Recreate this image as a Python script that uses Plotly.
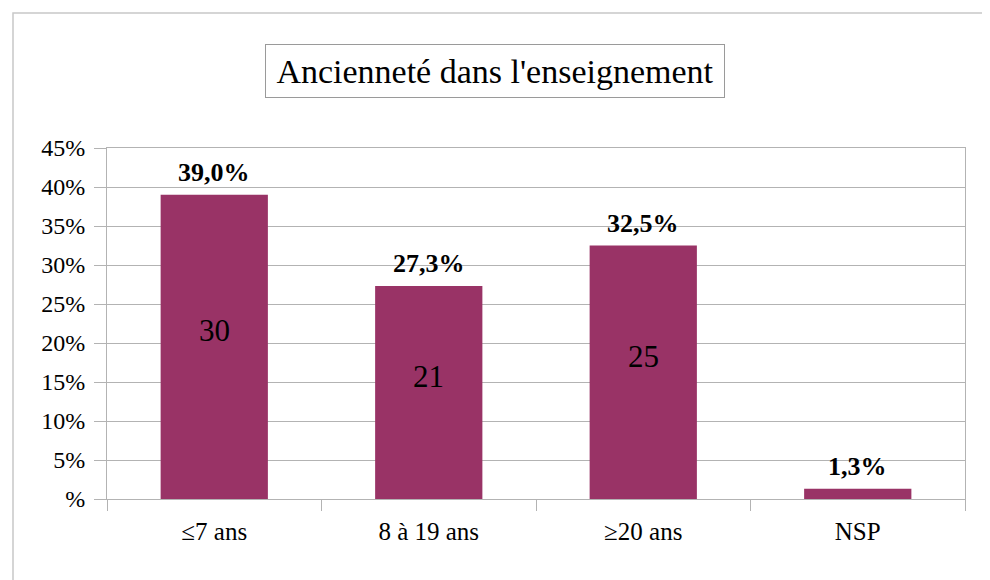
import plotly.graph_objects as go

categories = ["≤7 ans", "8 à 19 ans", "≥20 ans", "NSP"]
percent_values = [39.0, 27.3, 32.5, 1.3]
percent_labels = ["39,0%", "27,3%", "32,5%", "1,3%"]
count_labels = ["30", "21", "25", ""]
tick_vals = [0, 5, 10, 15, 20, 25, 30, 35, 40, 45]
tick_text = ["%", "5%", "10%", "15%", "20%", "25%", "30%", "35%", "40%", "45%"]
title_text = "Ancienneté dans l'enseignement"

FONT = "Liberation Serif"
BAR = "#993366"
GRID = "#b3b3b3"

fig = go.Figure()
fig.add_trace(go.Bar(
    x=categories, y=percent_values, width=0.5,
    marker=dict(color=BAR, line=dict(width=0)),
    hoverinfo="skip",
))

annotations = []
for c, v, pl, cl in zip(categories, percent_values, percent_labels, count_labels):
    annotations.append(dict(x=c, y=v, xref="x", yref="y", text="<b>" + pl + "</b>",
                            showarrow=False, yanchor="bottom", yshift=6,
                            font=dict(family=FONT, size=26, color="black")))
    if cl:
        annotations.append(dict(x=c, y=v / 2, xref="x", yref="y", text=cl,
                                showarrow=False, yanchor="middle", yshift=16,
                                font=dict(family=FONT, size=31, color="black")))

annotations.append(dict(x=(495 - 107) / 858, y=1 + (148 - 71.5) / 351, xref="paper", yref="paper",
                        text=title_text, showarrow=False, xanchor="center", yanchor="middle",
                        width=444, height=38, align="center", valign="middle",
                        font=dict(family=FONT, size=34, color="black"),
                        bordercolor="#9a9a9a", borderwidth=1, borderpad=7, bgcolor="white"))

fig.update_layout(
    width=982, height=572,
    margin=dict(l=99, r=25, t=140, b=81),
    paper_bgcolor="white", plot_bgcolor="white",
    showlegend=False,
    annotations=annotations,
    font=dict(family=FONT, color="black"),
    shapes=[dict(type="rect", xref="paper", yref="paper",
                 x0=(13 - 107) / 858, x1=1.2, y0=-0.5, y1=1 + (148 - 13) / 351,
                 line=dict(color="#c8c8c8", width=1.5), layer="below")],
    xaxis=dict(showgrid=False, showline=True, linecolor=GRID, linewidth=1, mirror=True,
               ticks="outside", tickson="boundaries", ticklen=11, tickcolor=GRID,
               ticklabelstandoff=10,
               tickfont=dict(family=FONT, size=25, color="black"), fixedrange=True),
    yaxis=dict(range=[0, 45], tickvals=tick_vals, ticktext=tick_text,
               showgrid=True, gridcolor=GRID, gridwidth=1,
               showline=True, linecolor=GRID, linewidth=1, mirror=True,
               ticks="outside", ticklen=12, tickcolor=GRID,
               ticklabelstandoff=4,
               tickfont=dict(family=FONT, size=24, color="black"), zeroline=False,
               fixedrange=True),
)

fig.write_html("out.html")
